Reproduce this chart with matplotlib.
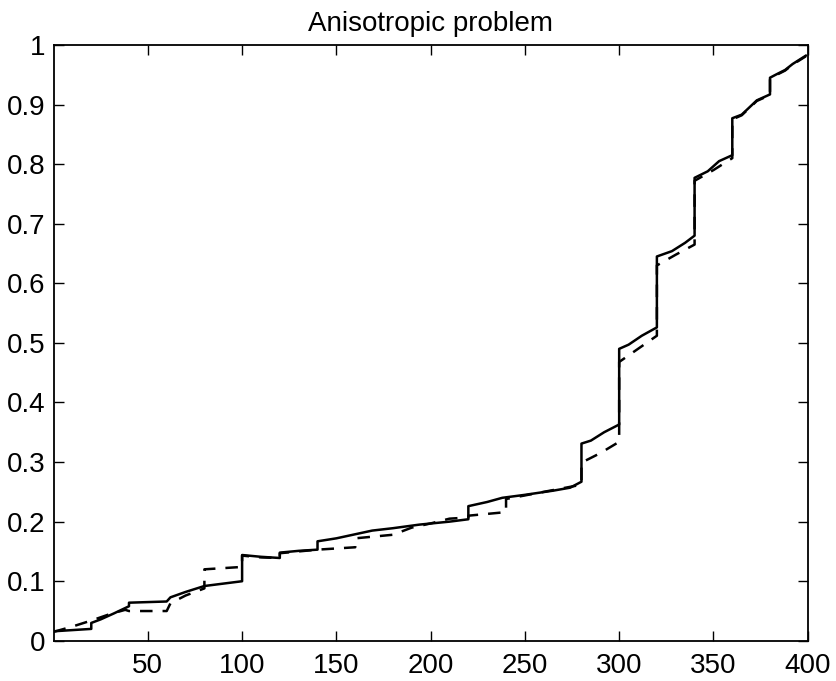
import matplotlib.pyplot as plt

plt.rcParams['font.family'] = ['Liberation Sans', 'DejaVu Sans']

# solid curve (jumps written as repeated x values)
solid_x = [0, 10, 20, 20, 25, 32, 40, 40, 50, 60, 62, 70, 80, 90, 100,
           100, 110, 120, 120, 130, 140, 140, 150, 169, 180, 194, 210, 220,
           220, 230, 238, 250, 265, 274, 280, 280, 285, 292, 300, 300, 305,
           312, 320, 320, 328, 335, 340, 340, 347, 353, 360, 360, 365, 373,
           380, 380, 383, 388, 392, 396, 399]
solid_y = [0.016, 0.018, 0.02, 0.03, 0.036, 0.046, 0.058, 0.064, 0.065, 0.066,
           0.073, 0.082, 0.092, 0.096, 0.1,
           0.144, 0.141, 0.139, 0.148, 0.151, 0.153, 0.167, 0.172, 0.185,
           0.189, 0.195, 0.2, 0.204,
           0.226, 0.233, 0.24, 0.245, 0.252, 0.257, 0.267, 0.331, 0.336, 0.35,
           0.363, 0.49, 0.497, 0.512, 0.526, 0.645, 0.654, 0.668, 0.68, 0.777,
           0.788, 0.805, 0.815, 0.877, 0.883, 0.907, 0.917, 0.945, 0.95, 0.958,
           0.968, 0.976, 0.982]

# dashed curve
dashed_x = [0, 10, 20, 30, 38, 40, 50, 60, 62, 70, 80, 80, 90, 100,
            100, 110, 120, 120, 130, 140, 150, 160, 160, 170, 180, 190, 200,
            210, 220, 220, 230, 240, 240, 250, 260, 270, 280, 280, 290, 300,
            300, 310, 320, 320, 330, 340, 340, 350, 360, 360, 365, 373, 380,
            380, 383, 388, 392, 396, 399]
dashed_y = [0.015, 0.024, 0.034, 0.045, 0.052, 0.05, 0.05, 0.05, 0.063, 0.076,
            0.088, 0.12, 0.122, 0.124,
            0.143, 0.14, 0.139, 0.147, 0.15, 0.153, 0.155, 0.157, 0.172, 0.175,
            0.178, 0.19, 0.197, 0.205, 0.207, 0.21, 0.213, 0.216, 0.238, 0.244,
            0.25, 0.256, 0.262, 0.299, 0.315, 0.334, 0.468, 0.49, 0.512, 0.63,
            0.648, 0.665, 0.772, 0.79, 0.81, 0.875, 0.882, 0.906, 0.916, 0.944,
            0.949, 0.957, 0.967, 0.975, 0.981]

x_ticks = [50, 100, 150, 200, 250, 300, 350, 400]
y_ticks = [0, 0.1, 0.2, 0.3, 0.4, 0.5, 0.6, 0.7, 0.8, 0.9, 1]
y_labels = ['0', '0.1', '0.2', '0.3', '0.4', '0.5', '0.6', '0.7', '0.8', '0.9', '1']

fig = plt.figure(figsize=(8.37, 6.81), dpi=100)
ax = fig.add_axes([0.064, 0.059, 0.901, 0.875])

ax.plot(solid_x, solid_y, color='black', linewidth=1.8)
ax.plot(dashed_x, dashed_y, color='black', linewidth=1.8, linestyle=(0, (5, 4)))

ax.set_xlim(0, 400)
ax.set_ylim(0, 1)
ax.set_xticks(x_ticks)
ax.set_xticklabels([str(t) for t in x_ticks])
ax.set_yticks(y_ticks)
ax.set_yticklabels(y_labels)
ax.tick_params(direction='in', length=7, width=1, top=True, right=True,
               labelsize=20)
ax.tick_params(axis='x', pad=9)
ax.tick_params(axis='y', pad=6)
for s in ax.spines.values():
    s.set_linewidth(1.3)

ax.set_title('Anisotropic problem', fontsize=20, pad=10)

fig.savefig('out.png', dpi=100)
